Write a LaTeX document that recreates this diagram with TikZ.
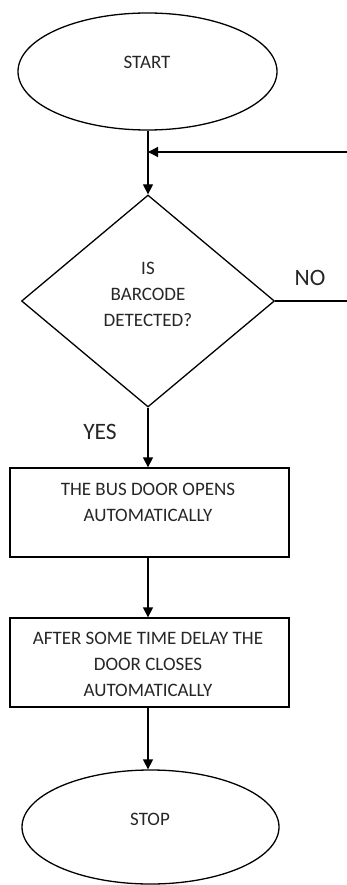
\documentclass[tikz,border=0pt]{standalone}
\usepackage{fontspec}
\setmainfont{Carlito}
\usetikzlibrary{shapes.geometric,arrows.meta}
\begin{document}
\begin{tikzpicture}[x=1pt,y=-1pt, line width=1.3pt,
  term/.style={ellipse, draw, inner sep=0pt},
  dec/.style={diamond, draw, inner sep=0pt},
  procbox/.style={rectangle, draw, inner sep=0pt, minimum width=279pt, minimum height=89pt},
  txt/.style={font=\fontsize{19}{26}\selectfont, align=center, inner sep=0pt, text=black!85},
  lbl/.style={font=\fontsize{23.5}{28}\selectfont, inner sep=0pt, text=black!85},
  arr/.style={-{Triangle[width=10pt,length=10pt]}}]
\useasboundingbox (0,0) rectangle (347,885);
% shapes
\node[term, minimum width=259pt, minimum height=117pt] (start) at (147.5,71.5) {};
\node[dec, minimum width=253pt, minimum height=212pt] (dec) at (148,301) {};
\node[procbox] (box1) at (149.5,512.5) {};
\node[procbox] (box2) at (149.5,662.5) {};
\node[term, minimum width=257pt, minimum height=114pt] (stop) at (150.5,827) {};
% texts
\node[txt] (starttxt) at (147,62) {START};
\node[txt] (dectxt) at (148,294) {IS\\BARCODE\\DETECTED?};
\node[txt] (box1txt) at (148,502) {THE BUS DOOR OPENS\\AUTOMATICALLY};
\node[txt] (box2txt) at (148,664) {AFTER SOME TIME DELAY THE\\DOOR CLOSES\\AUTOMATICALLY};
\node[txt] (stoptxt) at (150,819) {STOP};
\node[lbl] (nolbl) at (310,278) {NO};
\node[lbl] (yeslbl) at (100,432) {YES};
% connectors
\coordinate (fbin) at (347,152);
\coordinate (noout) at (347,301);
\draw[arr] (dec.north |- start.south) -- (dec.north);
\draw[arr] (fbin) -- (fbin -| dec.north);
\draw (dec.east) -- (noout);
\draw[arr] (dec.south) -- (dec.south |- box1.north);
\draw[arr] (box1.south -| dec.south) -- (box2.north -| dec.south);
\draw[arr] (box2.south -| dec.south) -- (stop.north -| dec.south);
\end{tikzpicture}
\end{document}
